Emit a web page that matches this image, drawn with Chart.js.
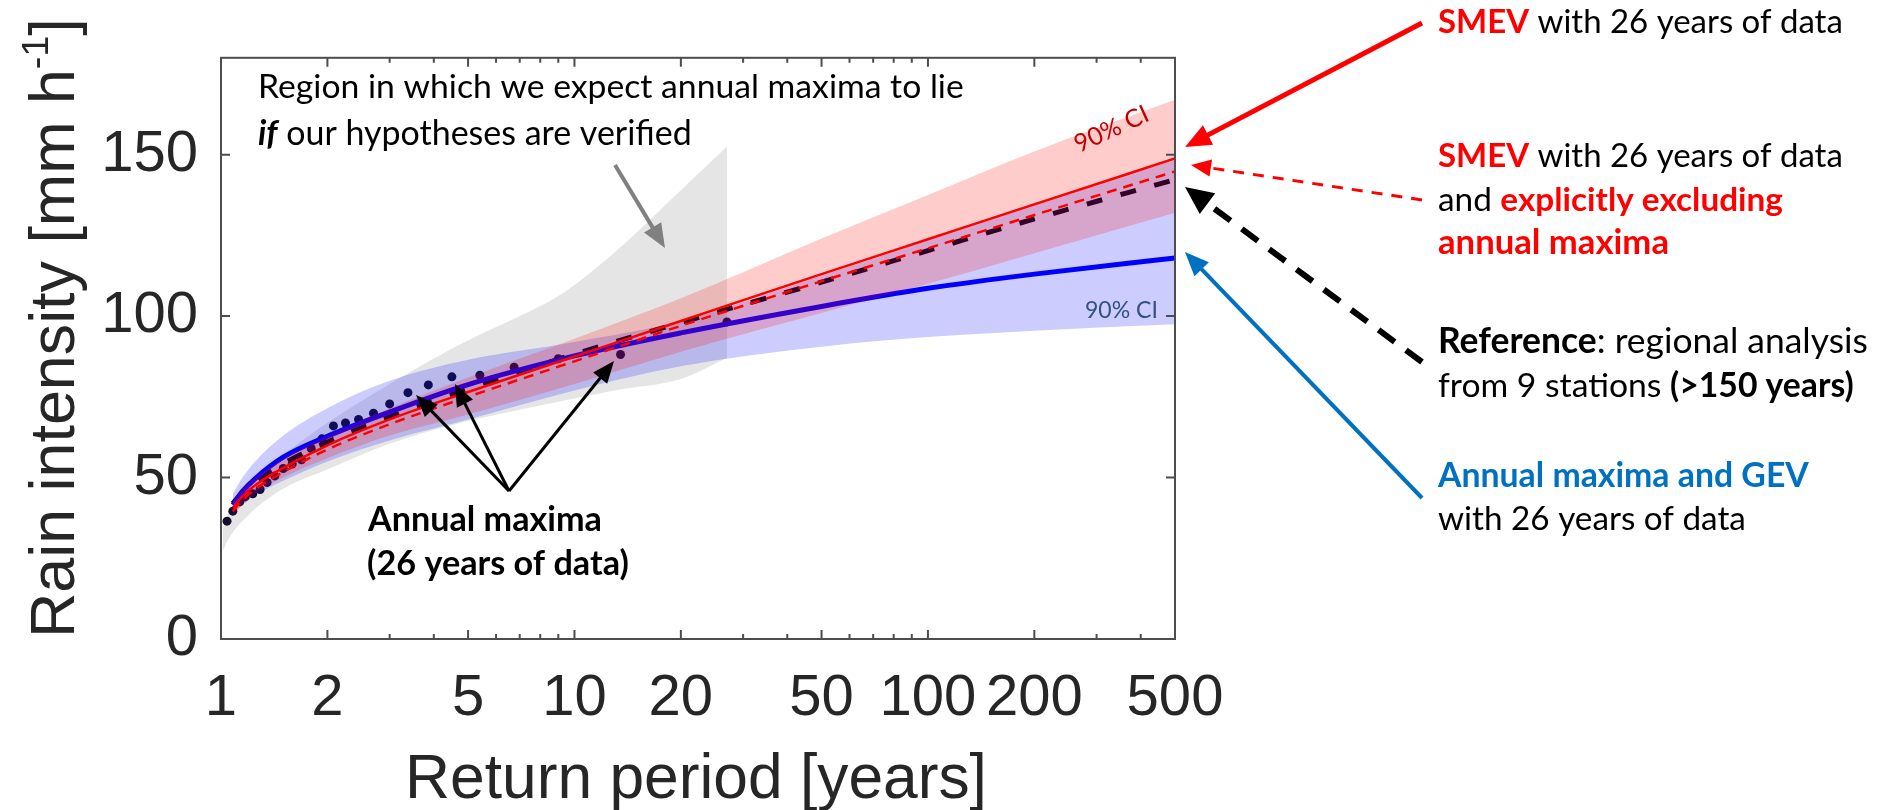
<!DOCTYPE html>
<html>
<head>
<meta charset="utf-8">
<script src="https://cdn.jsdelivr.net/npm/chart.js@4.4.0/dist/chart.umd.min.js"></script>
<style>
  html, body { margin:0; padding:0; background:#fff; }
  #wrap { width:1880px; height:810px; }
</style>
</head>
<body>
<div id="wrap"><canvas id="chart" width="1880" height="810"></canvas></div>
<script>
const curveT       = [1.08, 1.15, 1.25, 1.5, 2, 3, 5, 10, 20, 50, 100, 200, 500];
const smevLine     = [40.7, 44.2, 47.6, 53, 60, 68, 76.5, 87.5, 98.5, 113, 123.8, 134.6, 148.8];
const smevExclLine = [39.6, 43, 46.4, 51.7, 58.7, 66.5, 75, 86, 97, 110.8, 121, 131.3, 144.8];
const refLine      = [42, 45.4, 48.8, 54.3, 61, 68.8, 77.5, 88.2, 98, 110.5, 120.3, 130.1, 142.3];
const gevLine      = [41.5, 45.7, 49.7, 56.3, 62.8, 70.3, 78.8, 87.7, 94.8, 103, 108.6, 113, 118];
const smevUpper    = [43, 46.5, 50, 56, 63, 71.5, 81, 93, 105.5, 124, 137.5, 151, 167];
const smevLower    = [38.5, 41.5, 45, 50, 56, 63, 69.5, 79, 89, 101, 110, 119.5, 132];
const gevUpper     = [45, 50, 55, 63, 71.5, 80, 86.5, 92, 98.5, 112.5, 123.5, 135, 148.3];
const gevLower     = [38.5, 41.5, 44.5, 49, 55, 61.5, 68, 77, 84.5, 90.5, 93.5, 95.5, 97.5];

// grey region where annual maxima are expected
const regionT      = [1.01, 1.05, 1.2, 1.5, 2, 3, 5, 7, 9, 13, 20, 27];
const regionUpper  = [34, 39, 48, 57, 67, 79, 92.5, 100, 106.2, 119.8, 139, 152.5];
const regionLower  = [27, 31, 38.5, 46.5, 52.5, 60.5, 67.5, 71, 73.5, 77, 80.5, 87];

// 26 annual maxima (plotting position, intensity)
const maximaT = [1.04, 1.08, 1.13, 1.17, 1.23, 1.29, 1.35, 1.42, 1.5, 1.59, 1.69, 1.8, 1.93,
                 2.08, 2.25, 2.45, 2.7, 3, 3.38, 3.86, 4.5, 5.4, 6.75, 9, 13.5, 27];
const maximaI = [36.5, 39.6, 42.5, 44, 45, 46.3, 48.5, 50.5, 52.8, 54.2, 55.5, 59, 62,
                 66, 66.9, 68, 69.9, 72.8, 76.3, 78.7, 81.2, 81.7, 84.2, 86.8, 88.1, 98.2];

const xTickLabels = [1, 2, 5, 10, 20, 50, 100, 200, 500];
const xMinorTicks = [3, 4, 6, 7, 8, 9, 30, 40, 60, 70, 80, 90, 300, 400];
const yTickLabels = [0, 50, 100, 150];

const NOTE_FONT = 'Lato, "Open Sans", sans-serif';
const AXIS_FONT = '"Liberation Sans", Arial, sans-serif';

function pts(xs, ys){ return xs.map((x, i) => ({ x, y: ys[i] })); }

function curve(label, ys, color, width, dash, order){
  return { label, data: pts(curveT, ys), borderColor: color, borderWidth: width,
    borderDash: dash || [], pointRadius: 0, fill: false,
    cubicInterpolationMode: 'monotone', order };
}
function band(label, xs, ys, color, fill, order){
  return { label, data: pts(xs, ys), borderWidth: 0, borderColor: 'rgba(0,0,0,0)',
    backgroundColor: color, pointRadius: 0, fill,
    cubicInterpolationMode: 'monotone', order };
}

// text line made of styled parts, stretched to a target width
function richLine(ctx, x, y, parts, width){
  const base = 36;
  const font = (p, s) => (p.i ? 'italic ' : '') + (p.b ? 'bold ' : '') + s + 'px ' + NOTE_FONT;
  let w = 0;
  parts.forEach(p => { ctx.font = font(p, base); w += ctx.measureText(p.t).width; });
  const size = base * width / w;
  let cx = x;
  ctx.textAlign = 'left'; ctx.textBaseline = 'alphabetic';
  parts.forEach(p => {
    ctx.font = font(p, size);
    ctx.fillStyle = p.c || '#000';
    ctx.fillText(p.t, cx, y);
    cx += ctx.measureText(p.t).width;
  });
}

function arrow(ctx, x1, y1, x2, y2, o){
  const ang = Math.atan2(y2 - y1, x2 - x1);
  const bx = x2 - o.head * Math.cos(ang), by = y2 - o.head * Math.sin(ang);
  const hw = o.headW / 2;
  ctx.save();
  ctx.strokeStyle = o.color; ctx.fillStyle = o.color; ctx.lineWidth = o.width;
  ctx.setLineDash(o.dash || []);
  ctx.beginPath(); ctx.moveTo(x1, y1); ctx.lineTo(bx + 2*Math.cos(ang), by + 2*Math.sin(ang)); ctx.stroke();
  ctx.setLineDash([]);
  ctx.beginPath();
  ctx.moveTo(x2, y2);
  ctx.lineTo(bx + hw * Math.sin(ang), by - hw * Math.cos(ang));
  ctx.lineTo(bx - hw * Math.sin(ang), by + hw * Math.cos(ang));
  ctx.closePath(); ctx.fill();
  ctx.restore();
}

const framePlugin = {
  id: 'frame',
  afterDatasetsDraw(chart){
    const { ctx, chartArea: a, scales: { x, y } } = chart;
    ctx.save();
    ctx.strokeStyle = '#4d4d4d'; ctx.lineWidth = 2;
    ctx.strokeRect(a.left, a.top, a.right - a.left, a.bottom - a.top);
    ctx.beginPath();
    const xt = (v, len) => {
      const px = x.getPixelForValue(v);
      ctx.moveTo(px, a.bottom); ctx.lineTo(px, a.bottom - len);
      ctx.moveTo(px, a.top); ctx.lineTo(px, a.top + len);
    };
    xTickLabels.forEach(v => xt(v, 9));
    xMinorTicks.forEach(v => xt(v, 5));
    yTickLabels.forEach(v => {
      const py = y.getPixelForValue(v);
      ctx.moveTo(a.left, py); ctx.lineTo(a.left + 9, py);
      ctx.moveTo(a.right, py); ctx.lineTo(a.right - 9, py);
    });
    ctx.stroke();
    ctx.restore();
  }
};

const notesPlugin = {
  id: 'notes',
  afterDraw(chart){
    const ctx = chart.ctx;
    const a = chart.chartArea;
    ctx.save();

    // axis titles
    ctx.fillStyle = '#262626';
    ctx.textBaseline = 'alphabetic';
    ctx.font = '60px ' + AXIS_FONT;
    let w = ctx.measureText('Return period [years]').width;
    let s = 60 * 582 / w;
    ctx.font = s + 'px ' + AXIS_FONT;
    ctx.textAlign = 'center';
    ctx.fillText('Return period [years]', (a.left + a.right) / 2 - 2, 798);

    const main = 'Rain intensity [mm h', sup = '-1', end = ']';
    ctx.font = '60px ' + AXIS_FONT;
    const m1 = ctx.measureText(main).width, m3 = ctx.measureText(end).width;
    ctx.font = '36px ' + AXIS_FONT;
    const m2 = ctx.measureText(sup).width;
    s = 60 * 620 / (m1 + m2 + m3);
    ctx.translate(74, 638);
    ctx.rotate(-Math.PI / 2);
    ctx.textAlign = 'left';
    ctx.font = s + 'px ' + AXIS_FONT;
    ctx.fillText(main, 0, 0);
    let cx = ctx.measureText(main).width;
    ctx.font = (s * 0.6) + 'px ' + AXIS_FONT;
    ctx.fillText(sup, cx, -s * 0.42);
    cx += ctx.measureText(sup).width;
    ctx.font = s + 'px ' + AXIS_FONT;
    ctx.fillText(end, cx, 0);
    ctx.setTransform(1, 0, 0, 1, 0, 0);

    // notes inside the axes
    richLine(ctx, 258, 98, [{ t: 'Region in which we expect annual maxima to lie' }], 706);
    richLine(ctx, 258, 145, [{ t: 'if', b: true, i: true }, { t: ' our hypotheses are verified' }], 434);
    arrow(ctx, 615, 165, 665, 248, { color: '#808080', width: 4, head: 24, headW: 20 });

    richLine(ctx, 368, 531, [{ t: 'Annual maxima', b: true }], 234);
    richLine(ctx, 367, 575, [{ t: '(26 years of data)', b: true }], 262);
    const apex = [509, 491];
    [[416, 395], [455, 384], [614, 361]].forEach(t =>
      arrow(ctx, apex[0], apex[1], t[0], t[1], { color: '#000', width: 3, head: 22, headW: 18 }));

    ctx.save();
    ctx.translate(1079, 153);
    ctx.rotate(-0.43);
    richLine(ctx, 0, 0, [{ t: '90% CI', c: '#c00000' }], 79);
    ctx.restore();
    richLine(ctx, 1085, 318, [{ t: '90% CI', c: '#2f5283' }], 73);

    // legend notes on the right
    const red = '#ff0000', blue = '#0070c0';
    richLine(ctx, 1438, 33, [{ t: 'SMEV', b: true, c: red }, { t: ' with 26 years of data' }], 405);
    richLine(ctx, 1438, 167, [{ t: 'SMEV', b: true, c: red }, { t: ' with 26 years of data' }], 405);
    richLine(ctx, 1438, 211, [{ t: 'and ' }, { t: 'explicitly excluding', b: true, c: red }], 345);
    richLine(ctx, 1438, 254, [{ t: 'annual maxima', b: true, c: red }], 231);
    richLine(ctx, 1438, 353, [{ t: 'Reference', b: true }, { t: ': regional analysis' }], 430);
    richLine(ctx, 1438, 397, [{ t: 'from 9 stations ' }, { t: '(>150 years)', b: true }], 416);
    richLine(ctx, 1438, 487, [{ t: 'Annual maxima and GEV', b: true, c: blue }], 371);
    richLine(ctx, 1438, 530, [{ t: 'with 26 years of data' }], 308);

    arrow(ctx, 1422, 23, 1185, 147, { color: red, width: 5, head: 26, headW: 22 });
    arrow(ctx, 1422, 200, 1191, 165, { color: red, width: 3, dash: [11, 9], head: 20, headW: 17 });
    arrow(ctx, 1422, 362, 1185, 187, { color: '#000', width: 6, dash: [20, 14], head: 28, headW: 26 });
    arrow(ctx, 1422, 498, 1185, 252, { color: blue, width: 4, head: 24, headW: 20 });

    ctx.restore();
  }
};

const datasets = [
  curve('SMEV, annual maxima excluded', smevExclLine, '#ff0000', 2.5, [10, 7], 1),
  curve('SMEV', smevLine, '#ff0000', 2.5, null, 2),
  band('SMEV 90% CI upper', curveT, smevUpper, 'rgba(255,0,0,0.2)', '+1', 3),
  band('SMEV 90% CI lower', curveT, smevLower, 'rgba(0,0,0,0)', false, 4),
  curve('GEV', gevLine, '#0000ff', 5, null, 5),
  band('GEV 90% CI upper', curveT, gevUpper, 'rgba(0,0,255,0.2)', '+1', 6),
  band('GEV 90% CI lower', curveT, gevLower, 'rgba(0,0,0,0)', false, 7),
  curve('Reference', refLine, '#000000', 5, [16, 19], 8),
  { label: 'Annual maxima', data: pts(maximaT, maximaI), showLine: false, pointRadius: 4.5,
    pointBackgroundColor: '#150f2d', pointBorderWidth: 0, order: 9 },
  band('Expected region upper', regionT, regionUpper, 'rgba(0,0,0,0.1)', '+1', 10),
  band('Expected region lower', regionT, regionLower, 'rgba(0,0,0,0)', false, 11)
];

new Chart(document.getElementById('chart'), {
  type: 'line',
  data: { datasets },
  plugins: [framePlugin, notesPlugin],
  options: {
    responsive: false,
    animation: false,
    events: [],
    layout: { padding: { top: 52, right: 705, bottom: 0, left: 0 } },
    plugins: { legend: { display: false }, tooltip: { enabled: false } },
    scales: {
      x: {
        type: 'logarithmic', min: 1, max: 500,
        grid: { display: false, drawTicks: false }, border: { display: false },
        afterBuildTicks: s => { s.ticks = xTickLabels.map(v => ({ value: v })); },
        afterFit: s => { s.height = 171; },
        ticks: { autoSkip: false, maxRotation: 0, minRotation: 0, padding: 25,
          color: '#262626', font: { family: AXIS_FONT, size: 58 },
          callback: v => String(v) }
      },
      y: {
        type: 'linear', min: 0, max: 180,
        grid: { display: false, drawTicks: false }, border: { display: false },
        afterBuildTicks: s => { s.ticks = yTickLabels.map(v => ({ value: v })); },
        afterFit: s => { s.width = 221; },
        ticks: { padding: 23, color: '#262626', font: { family: AXIS_FONT, size: 58 },
          callback: v => String(v) }
      }
    }
  }
});
</script>
</body>
</html>
